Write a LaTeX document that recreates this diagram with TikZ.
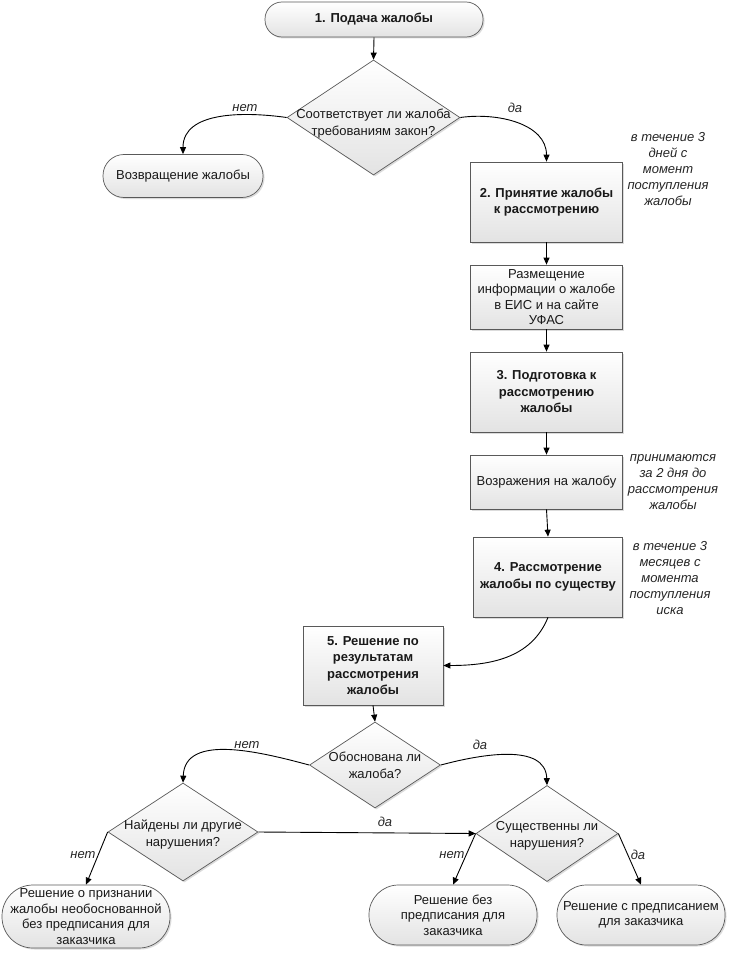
\documentclass[tikz,border=0pt]{standalone}
\usepackage{fontspec}
\setmainfont{Liberation Sans}
\usetikzlibrary{shapes.geometric,shadows,arrows.meta}

\begin{document}
\begin{tikzpicture}[x=1pt,y=-1pt,
  font=\fontsize{13}{15.5}\selectfont,
  box/.style={draw=black!65, line width=0.7pt, top color=white, bottom color=black!11,
    drop shadow={shadow xshift=1.5pt,shadow yshift=-1.5pt,opacity=0.28},
    align=center, inner sep=1pt, text=black!90},
  proc/.style={box, rectangle},
  term/.style={box, rectangle, rounded corners=#1},
  dec/.style={box, diamond, inner sep=0pt},
  bf/.style={font=\fontsize{13}{16.5}\selectfont\bfseries},
  lbl/.style={font=\fontsize{13}{15}\selectfont\itshape, text=black!85, inner sep=0pt},
  note/.style={font=\fontsize{13}{16}\selectfont\itshape, text=black!85, align=center, inner sep=0pt},
  arr/.style={-{Triangle[length=7pt,width=6pt]}, line width=0.9pt, black},
  dtext/.style={align=center, text=black!90, font=\fontsize{13}{17}\selectfont}
]
\useasboundingbox (0,0) rectangle (733,955);
\fill[white] (0,0) rectangle (733,955);

% nodes
\node[term=17pt, bf, minimum width=218pt, minimum height=35pt] (n1) at (374,19.5) {1. Подача жалобы};
\node[dec, minimum width=173pt, minimum height=115pt,
  label={[dtext, yshift=-6pt]center:Соответствует ли жалоба\\требованиям закон?}] (d1) at (373.5,117.5) {};
\node[term=21pt, minimum width=160pt, minimum height=43pt] (v) at (183,176) {Возвращение жалобы};
\node[proc, bf, minimum width=152pt, minimum height=80pt] (b2) at (546.5,202) {2. Принятие жалобы\\к рассмотрению};
\node[proc, minimum width=152pt, minimum height=64pt] (razm) at (546.5,297) {Размещение\\информации о жалобе\\в ЕИС и на сайте\\УФАС};
\node[proc, bf, minimum width=152pt, minimum height=80pt] (b3) at (546.5,392) {3. Подготовка к\\рассмотрению\\жалобы};
\node[proc, minimum width=152pt, minimum height=54pt] (vozr) at (546.5,482) {Возражения на жалобу};
\node[proc, bf, minimum width=149pt, minimum height=80pt] (b4) at (548,577) {4. Рассмотрение\\жалобы по существу};
\node[proc, bf, minimum width=140pt, minimum height=79pt] (b5) at (373,665.5) {5. Решение по\\результатам\\рассмотрения\\жалобы};
\node[dec, minimum width=131pt, minimum height=86pt,
  label={[dtext]center:Обоснована ли\\жалоба?}] (d2) at (375,765) {};
\node[dec, minimum width=150pt, minimum height=98pt,
  label={[dtext, yshift=-3pt]center:Найдены ли другие\\нарушения?}] (d3) at (183,832) {};
\node[dec, minimum width=142pt, minimum height=96pt,
  label={[dtext, yshift=-2pt]center:Существенны ли\\нарушения?}] (d4) at (547,833.5) {};
\node[term=31pt, minimum width=168pt, minimum height=63pt, inner xsep=0pt] (f1) at (86,916.5) {Решение о признании\\жалобы необоснованной\\без предписания для\\заказчика};
\node[term=29.5pt, minimum width=168pt, minimum height=60pt] (f2) at (453,915) {Решение без\\предписания для\\заказчика};
\node[term=29.5pt, minimum width=168pt, minimum height=60pt, inner xsep=0pt] (f3) at (641,915) {Решение с предписанием\\для заказчика};

% notes
\node[note] (a1) at (668,169) {в течение 3\\дней с\\момент\\поступления\\жалобы};
\node[note] (a2) at (673,482) {принимаются\\за 2 дня до\\рассмотрения\\жалобы};
\node[note] (a3) at (670,578) {в течение 3\\месяцев с\\момента\\поступления\\иска};

% connector labels
\node[lbl] (l1) at (245,108) {нет};
\node[lbl] (l2) at (515,108) {да};
\node[lbl] (l3) at (247,745) {нет};
\node[lbl] (l4) at (480,745) {да};
\node[lbl] (l5) at (385,822) {да};
\node[lbl] (l6) at (83,855) {нет};
\node[lbl] (l7) at (452,855) {нет};
\node[lbl] (l8) at (638,855) {да};

% connectors
\draw[arr] (n1.south) -- (d1.north);
\draw[arr] (d1.west) to[out=172,in=90] (v.north);
\draw[arr] (d1.east) to[out=8,in=90] (b2.north);
\draw[arr] (b2.south) -- (razm.north);
\draw[arr] (razm.south) -- (b3.north);
\draw[arr] (b3.south) -- (vozr.north);
\draw[arr] (vozr.south) -- (b4.north);
\draw[arr] (b4.south) to[out=-112,in=0] (b5.east);
\draw[arr] (b5.south) -- (d2.north);
\draw[arr] (d2.west) to[out=165,in=88] (d3.north);
\draw[arr] (d2.east) to[out=15,in=92] (d4.north);
\draw[arr] (d3.east) -- (d4.west);
\draw[arr] (d3.west) -- (f1.north);
\draw[arr] (d4.west) -- (f2.north);
\draw[arr] (d4.east) -- (f3.north);
\end{tikzpicture}
\end{document}
